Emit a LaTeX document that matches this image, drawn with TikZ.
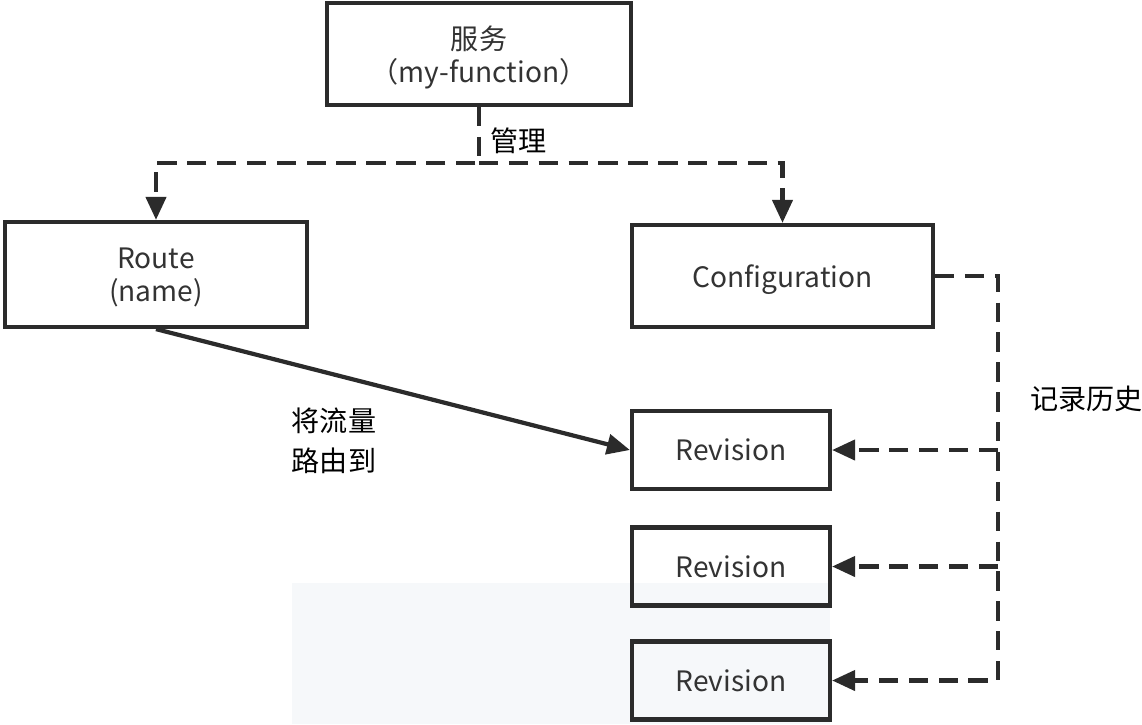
\documentclass[tikz,border=0pt]{standalone}
\usepackage{fontspec}
\setmainfont{Noto Sans CJK SC}
\usepackage{tikz}
\usetikzlibrary{arrows.meta,positioning,calc}
\definecolor{ink}{HTML}{2B2B2B}
\definecolor{txt}{HTML}{333333}
\definecolor{wm}{HTML}{F6F8FA}

\begin{document}
\begin{tikzpicture}[x=0.02cm,y=-0.02cm,
  box/.style={draw=ink,line width=2.4pt,align=center,text=txt,inner sep=0pt,text depth=0pt,font=\fontsize{16}{19}\selectfont},
  rx/.style={-{Triangle[length=4.6mm,width=4mm]},line width=2.4pt,draw=ink},
  dsh/.style={dash pattern=on 11pt off 6pt},
  lab/.style={text=black,font=\fontsize{16}{23}\selectfont}]
  \useasboundingbox (0,0) rectangle (1142,724);
  \fill[wm] (292,583) rectangle (830,724);
  \node[box,minimum width=6.08cm,minimum height=2.04cm] (svc) at (479,54) {服务\\（my-function）};
  \node[box,minimum width=6.04cm,minimum height=2.1cm] (route) at (156,274.5) {Route\\(name)};
  \node[box,minimum width=6.02cm,minimum height=2.04cm] (config) at (782.5,276) {Configuration};
  \node[box,minimum width=3.96cm,minimum height=1.56cm] (rev1) at (731,450) {Revision};
  \node[box,minimum width=3.96cm,minimum height=1.56cm] (rev2) at (731,566.5) {Revision};
  \node[box,minimum width=3.96cm,minimum height=1.56cm] (rev3) at (731,680.5) {Revision};
  \coordinate (split) at ($(svc.south)+(0,56)$);
  \coordinate (bus) at ($(config.east)+(63,0)$);
  % service manages route and configuration
  \draw[rx,dsh] (svc.south) -- (split) -| (route.north);
  \draw[rx,dsh] (split) -| (config.north);
  \path (svc.south) -- node[lab,right=3pt,yshift=-3pt] (mgmt) {管理} (split);
  % configuration keeps history of revisions
  \draw[rx,dsh] (config.east) -- (bus) |- (rev3.east);
  \draw[rx,dsh] (bus |- rev1.east) -- (rev1.east);
  \draw[rx,dsh] (bus |- rev2.east) -- (rev2.east);
  \node[lab,anchor=west] (hist) at ($(bus)+(26,123)$) {记录历史};
  % route sends traffic
  \draw[rx] (route.south) -- (rev1.west);
  \node[lab,align=left] (flow) at (334,441) {将流量\\路由到};
\end{tikzpicture}
\end{document}
